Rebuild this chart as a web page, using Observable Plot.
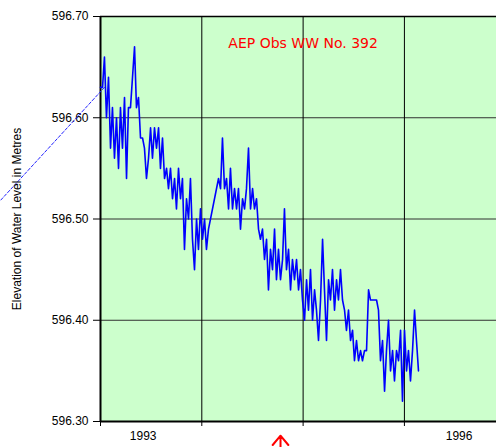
<!DOCTYPE html>
<html><head><meta charset="utf-8">
<script src="https://cdn.jsdelivr.net/npm/d3@7"></script>
<script src="https://cdn.jsdelivr.net/npm/@observablehq/plot@0.6"></script>
<style>
body{margin:0;background:#fff;}
#chart svg{display:block;}
</style>
</head><body><div id="chart"></div>
<script>
// Observation dates (decimal years)
const years = [
1993.000,1993.020,1993.039,1993.059,1993.079,1993.099,1993.118,1993.138,1993.158,1993.178,
1993.197,1993.217,1993.237,1993.257,1993.276,1993.296,1993.316,1993.336,1993.355,1993.375,
1993.395,1993.415,1993.434,1993.454,1993.474,1993.494,1993.513,1993.533,1993.553,1993.573,
1993.592,1993.612,1993.632,1993.652,1993.671,1993.691,1993.711,1993.731,1993.750,1993.770,
1993.790,1993.809,1993.829,1993.849,1993.869,1993.888,1993.908,1993.928,1993.948,1993.967,
1993.987,1994.007,1994.027,1994.046,1994.066,
1994.165,1994.185,1994.204,1994.224,1994.244,1994.264,1994.283,1994.303,1994.323,1994.343,
1994.362,1994.382,1994.402,1994.422,1994.441,1994.461,1994.481,1994.501,1994.520,1994.540,
1994.560,1994.579,1994.599,1994.619,1994.639,1994.658,1994.678,1994.698,1994.718,1994.737,
1994.757,1994.777,1994.797,1994.816,1994.836,1994.856,1994.876,1994.895,1994.915,1994.935,
1994.955,1994.974,1994.994,1995.014,1995.034,1995.053,1995.073,1995.093,1995.113,1995.132,
1995.152,1995.172,1995.192,1995.211,1995.231,1995.251,1995.270,1995.290,1995.310,1995.330,
1995.349,1995.369,1995.389,1995.409,1995.428,1995.448,1995.468,1995.488,1995.507,1995.527,
1995.547,1995.567,1995.586,1995.606,1995.626,1995.646,1995.665,1995.685,1995.705,1995.725,
1995.744,1995.764,1995.784,1995.804,1995.823,1995.843,1995.863,1995.883,1995.902,1995.922,
1995.942,1995.962,1995.981,1996.001,1996.021,1996.040,1996.060,1996.080,1996.100,1996.119,
1996.139
];
// Water level elevations (m)
const levels = [
596.63,596.63,596.66,596.60,596.64,596.57,596.61,596.56,596.60,596.55,
596.61,596.57,596.62,596.54,596.61,596.61,596.64,596.67,596.61,596.62,
596.58,596.58,596.57,596.54,596.56,596.59,596.56,596.59,596.57,596.59,
596.55,596.58,596.54,596.55,596.53,596.55,596.52,596.54,596.51,596.55,
596.52,596.54,596.47,596.52,596.50,596.54,596.48,596.45,596.50,596.47,
596.51,596.48,596.50,596.47,596.49,
596.54,596.53,596.58,596.53,596.54,596.51,596.55,596.51,596.53,596.51,
596.53,596.49,596.52,596.51,596.53,596.57,596.51,596.53,596.51,596.52,
596.49,596.48,596.49,596.46,596.48,596.43,596.47,596.45,596.49,596.44,
596.47,596.44,596.46,596.51,596.45,596.47,596.43,596.46,596.44,596.46,
596.43,596.45,596.42,596.40,596.44,596.41,596.45,596.40,596.43,596.41,
596.38,596.42,596.48,596.43,596.38,596.44,596.42,596.45,596.41,596.44,
596.42,596.45,596.42,596.41,596.39,596.41,596.38,596.39,596.36,596.38,
596.36,596.37,596.36,596.37,596.37,596.43,596.42,596.42,596.42,596.42,
596.41,596.36,596.38,596.33,596.37,596.40,596.35,596.37,596.34,596.37,
596.36,596.39,596.32,596.39,596.35,596.37,596.34,596.37,596.41,596.38,
596.35
];
const title = "AEP Obs WW No. 392";
const yLabel = "Elevation of Water Level in Metres";
const yTicks = [596.30, 596.40, 596.50, 596.60, 596.70];
const yearGrid = [1993, 1994, 1995, 1996];
const xLabels = ["1993", "1996"];
// dashed leader line (runs out of the plot to the left)
const leaderYears = [1993.039, 1992.0];
const leaderLevels = [596.630, 596.517];
// red arrow annotation below the axis
const arrowYear = [1994.777];

const data = years.map((t, i) => ({t, v: levels[i]}));
const leader = leaderYears.map((t, i) => ({t, v: leaderLevels[i]}));

const chart = Plot.plot({
  width: 496, height: 447,
  marginLeft: 100, marginRight: 0, marginTop: 16, marginBottom: 26,
  style: {fontFamily: "'Liberation Sans', Arial, sans-serif", fontSize: "12px", background: "white", color: "black", overflow: "hidden"},
  x: {domain: [1993, 1996.909], axis: null},
  y: {domain: [596.30, 596.70], axis: null},
  marks: [
    Plot.frame({fill: "#ccffcc", stroke: null}),
    Plot.gridY(yTicks, {stroke: "#303030", strokeOpacity: 1}),
    Plot.gridX(yearGrid, {stroke: "#000", strokeOpacity: 1}),
    Plot.axisY(yTicks, {tickSize: 7, tickPadding: 5, tickFormat: d3.format(".2f"), label: null, fontSize: 12, stroke: "#000"}),
    Plot.axisX(yearGrid, {tickSize: 5, tickFormat: () => "", label: null, stroke: "#000"}),
    Plot.ruleX([1993], {stroke: "#000", strokeWidth: 2}),
    Plot.ruleY([596.30], {stroke: "#000", strokeWidth: 2}),
    Plot.ruleY([596.70], {stroke: "#000", strokeWidth: 1.5}),
    Plot.line(data, {x: "t", y: "v", stroke: "#0000ff", strokeWidth: 1.6}),
    Plot.line(leader, {x: "t", y: "v", stroke: "#2222ff", strokeWidth: 1, strokeDasharray: "3,2"}),
    Plot.text(xLabels.slice(0, 1), {x: d => +d + 0.5, y: 596.30, dy: 15, dx: -8, text: d => d, fontSize: 12, fill: "#000"}),
    Plot.text(xLabels.slice(1), {x: d => +d + 0.5, y: 596.30, dy: 15, dx: 4, text: d => d, fontSize: 12, fill: "#000"}),
    Plot.text([title], {x: 1995, y: 596.673, text: d => d, fill: "#ff0000", fontSize: 14, fontFamily: "'DejaVu Sans', sans-serif"}),
    Plot.text([yLabel], {frameAnchor: "left", textAnchor: "middle", rotate: -90, dx: -83, text: d => d, fontSize: 12, fill: "#000"}),
    Plot.arrow(arrowYear, {x1: d => d, x2: d => d, y1: 596.25, y2: 596.286, stroke: "#ff0000", strokeWidth: 2, headLength: 10, headAngle: 80})
  ]
});
document.getElementById("chart").appendChild(chart);
</script>
</body></html>
